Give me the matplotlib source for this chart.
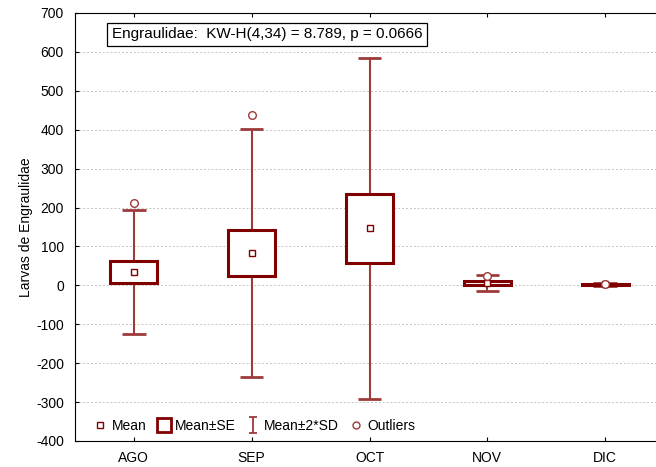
import matplotlib.pyplot as plt
import numpy as np
from matplotlib.lines import Line2D
from matplotlib.patches import Rectangle
from matplotlib.path import Path

plt.rcParams['font.family'] = ['Liberation Sans', 'DejaVu Sans']
plt.rcParams['axes.unicode_minus'] = False

months = ['AGO', 'SEP', 'OCT', 'NOV', 'DIC']
means = [34.5, 83.5, 146.5, 6.0, 3.0]
se = [28.3, 58.5, 88.5, 4.0, 1.5]
sd2 = [159.0, 318.5, 438.5, 20.0, 4.0]
outlier_x = ['AGO', 'SEP', 'NOV', 'DIC']
outlier_y = [211, 437, 25, 4]

box_col = '#800000'
wh_col = '#9e3a3a'

fig = plt.figure(figsize=(6.56, 4.67), dpi=100)
ax = fig.add_axes([75 / 656, 26 / 467, 589 / 656, 428 / 467])

x = np.arange(1, len(months) + 1)
means = np.array(means)
se = np.array(se)
sd2 = np.array(sd2)

# whiskers (mean +/- 2*SD)
ax.vlines(x, means + se, means + sd2, color=wh_col, lw=1.5, zorder=3)
ax.vlines(x, means - sd2, means - se, color=wh_col, lw=1.5, zorder=3)
ax.hlines(means + sd2, x - 0.1, x + 0.1, color=wh_col, lw=2, zorder=3)
ax.hlines(means - sd2, x - 0.1, x + 0.1, color=wh_col, lw=2, zorder=3)

# boxes (mean +/- SE)
for xi, m, s in zip(x, means, se):
    ax.add_patch(Rectangle((xi - 0.2, m - s), 0.4, 2 * s, facecolor='white',
                           edgecolor=box_col, lw=2.2, zorder=4))

# means
ax.plot(x, means, ls='none', marker='s', ms=5, mfc='white', mec=box_col, mew=1, zorder=5)

# outliers
ox = [months.index(m) + 1 for m in outlier_x]
ax.plot(ox, outlier_y, ls='none', marker='o', ms=5.5, mfc='white', mec=wh_col, mew=1, zorder=6)

ax.set_xlim(0.5, 5.5)
ax.set_ylim(-400, 700)
ax.set_yticks(np.arange(-400, 701, 100))
ax.set_xticks(x)
ax.set_xticklabels(months)
ax.tick_params(direction='in', labelsize=10, top=True, length=3)
ax.tick_params(axis='y', pad=8)
ax.tick_params(axis='x', pad=7)
ax.yaxis.grid(True, ls=(0, (2, 2)), color='#c4c4c4', lw=0.7)
ax.set_axisbelow(True)
ax.spines['right'].set_visible(False)
ax.set_ylabel('Larvas de Engraulidae', fontsize=10, labelpad=2)

ax.text(0.062, 0.95, 'Engraulidae:  KW-H(4,34) = 8.789, p = 0.0666', transform=ax.transAxes,
        fontsize=11, va='center', ha='left',
        bbox=dict(boxstyle='square,pad=0.3', facecolor='white', edgecolor='black', lw=0.9))

ibeam = Path([(-0.5, 1), (0.5, 1), (0, 1), (0, -1), (-0.5, -1), (0.5, -1)],
             [Path.MOVETO, Path.LINETO, Path.MOVETO, Path.LINETO, Path.MOVETO, Path.LINETO])
handles = [
    Line2D([], [], ls='none', marker='s', ms=5, mfc='white', mec=box_col, mew=1),
    Line2D([], [], ls='none', marker='s', ms=10, mfc='white', mec=box_col, mew=2),
    Line2D([], [], ls='none', marker=ibeam, ms=12, mec=wh_col, mew=1.3),
    Line2D([], [], ls='none', marker='o', ms=5, mfc='white', mec=wh_col, mew=1),
]
ax.legend(handles, ['Mean', 'Mean±SE', 'Mean±2*SD', 'Outliers'], loc='lower left',
          bbox_to_anchor=(0.01, -0.01), ncol=4, frameon=False, fontsize=10,
          handlelength=1.0, handletextpad=0.3, columnspacing=0.75)

fig.savefig('out.png', dpi=100)
